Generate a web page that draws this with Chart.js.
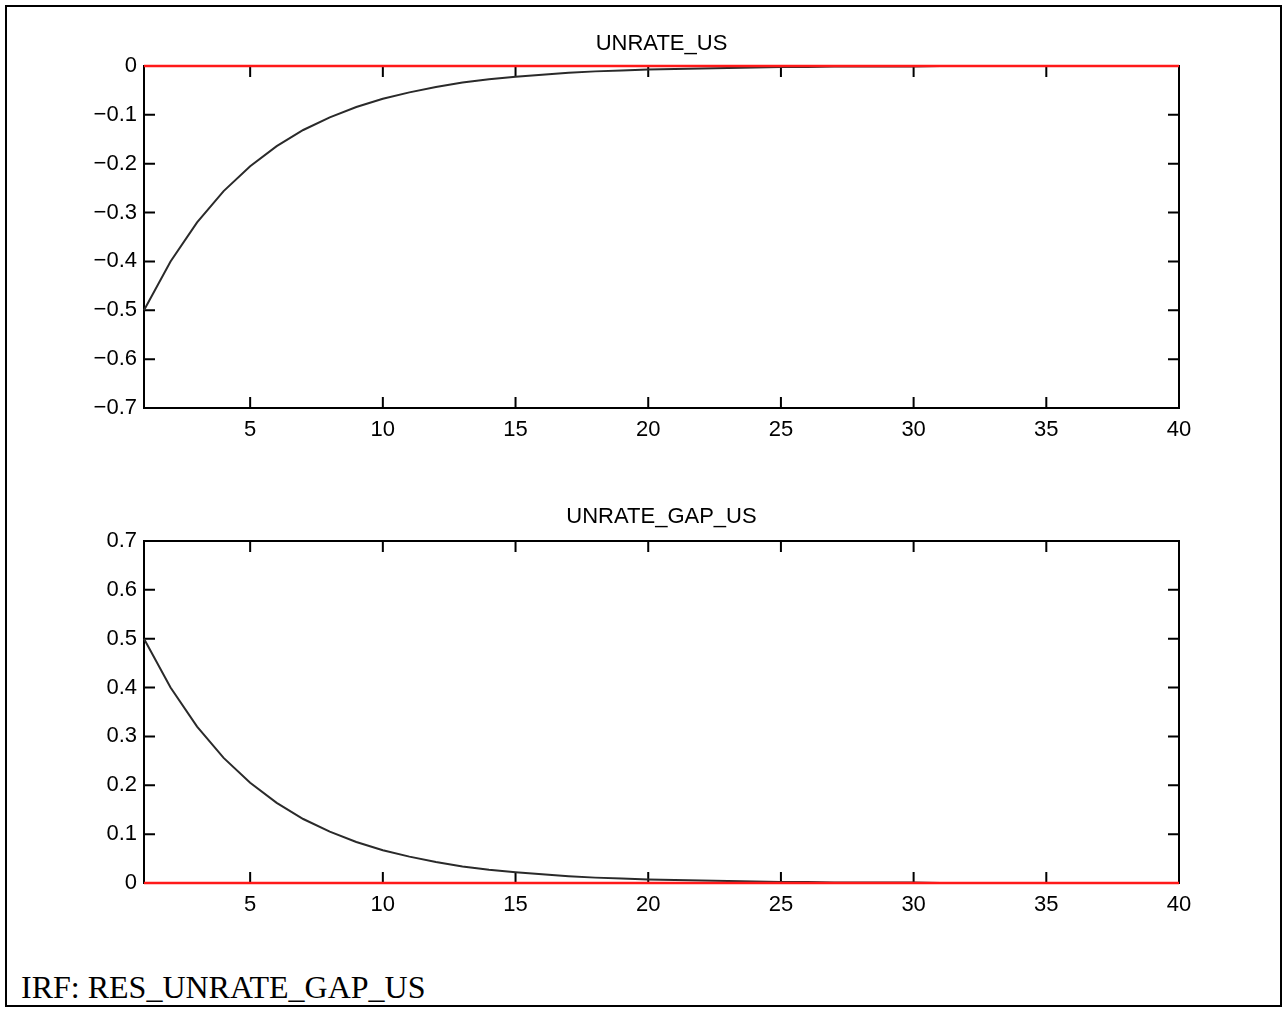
<!DOCTYPE html>
<html>
<head>
<meta charset="utf-8">
<script src="https://cdn.jsdelivr.net/npm/chart.js@4.4.1/dist/chart.umd.min.js"></script>
<style>
  body { margin: 0; background: #fff; }
  #page { position: relative; width: 1285px; height: 1010px; overflow: hidden; }
  #frame { position: absolute; left: 5px; top: 5px; width: 1273px; height: 998px; border: 2px solid #000; }
  canvas { position: absolute; left: 0; }
  #caption {
    position: absolute; left: 21px; top: 971px;
    font-family: "Liberation Serif", "Times New Roman", serif;
    font-size: 32px; line-height: 32px; color: #000; white-space: nowrap;
  }
</style>
</head>
<body>
<div id="page">
  <div id="frame"></div>
  <canvas id="chartTop" width="1285" height="470" style="top:0px"></canvas>
  <canvas id="chartBottom" width="1285" height="470" style="top:470px"></canvas>
  <div id="caption">IRF: RES_UNRATE_GAP_US</div>
</div>
<script>
// horizon (quarters)
const periods = [1, 2, 3, 4, 5, 6, 7, 8, 9, 10, 11, 12, 13, 14, 15, 16, 17, 18, 19, 20,
                 21, 22, 23, 24, 25, 26, 27, 28, 29, 30, 31, 32, 33, 34, 35, 36, 37, 38, 39, 40];

// responses to RES_UNRATE_GAP_US
const unrateUS = [-0.500, -0.400, -0.320, -0.256, -0.205, -0.164, -0.131, -0.105, -0.084, -0.067,
                  -0.054, -0.043, -0.034, -0.027, -0.022, -0.018, -0.014, -0.011, -0.009, -0.007,
                  -0.006, -0.005, -0.004, -0.003, -0.002, -0.002, -0.001, -0.001, -0.001, -0.001,
                  0, 0, 0, 0, 0, 0, 0, 0, 0, 0];
const unrateGapUS = [0.500, 0.400, 0.320, 0.256, 0.205, 0.164, 0.131, 0.105, 0.084, 0.067,
                     0.054, 0.043, 0.034, 0.027, 0.022, 0.018, 0.014, 0.011, 0.009, 0.007,
                     0.006, 0.005, 0.004, 0.003, 0.002, 0.002, 0.001, 0.001, 0.001, 0.001,
                     0, 0, 0, 0, 0, 0, 0, 0, 0, 0];
const zeroLine = [0, 0, 0, 0, 0, 0, 0, 0, 0, 0, 0, 0, 0, 0, 0, 0, 0, 0, 0, 0,
                  0, 0, 0, 0, 0, 0, 0, 0, 0, 0, 0, 0, 0, 0, 0, 0, 0, 0, 0, 0];

const xTicks = [5, 10, 15, 20, 25, 30, 35, 40];
const yTicksTop = [0, -0.1, -0.2, -0.3, -0.4, -0.5, -0.6, -0.7];
const yTicksBottom = [0, 0.1, 0.2, 0.3, 0.4, 0.5, 0.6, 0.7];

const tickFont = { family: '"Liberation Sans", Arial, sans-serif', size: 22 };
const TICK_LEN = 11;

function fmtY(v) {
    if (v === 0) return '0';
    return (v < 0 ? '\u2212' : '') + Math.abs(v).toFixed(1);
}

// box around the axes with inward ticks on all four sides
const boxPlugin = {
    id: 'box',
    beforeDatasetsDraw(chart) {
        const c = chart.ctx;
        const a = chart.chartArea;
        const xs = chart.scales.x, ys = chart.scales.y;
        c.save();
        c.strokeStyle = '#000';
        c.lineWidth = 2;
        c.strokeRect(a.left, a.top, a.right - a.left, a.bottom - a.top);
        c.beginPath();
        xs.ticks.forEach(t => {
            const px = xs.getPixelForValue(t.value);
            c.moveTo(px, a.bottom); c.lineTo(px, a.bottom - TICK_LEN);
            c.moveTo(px, a.top); c.lineTo(px, a.top + TICK_LEN);
        });
        ys.ticks.forEach(t => {
            const py = ys.getPixelForValue(t.value);
            c.moveTo(a.left, py); c.lineTo(a.left + TICK_LEN, py);
            c.moveTo(a.right, py); c.lineTo(a.right - TICK_LEN, py);
        });
        c.stroke();
        c.restore();
    }
};

function makeChart(id, title, values, yMin, yMax, yTicks, titlePad, xHeight) {
    const ctx = document.getElementById(id);
    return new Chart(ctx, {
        type: 'line',
        data: {
            labels: periods,
            datasets: [{
                // zero line sits on top of the response
                label: 'zero',
                data: zeroLine,
                borderColor: 'rgb(255,25,25)',
                borderWidth: 2.5,
                pointRadius: 0,
                clip: false,
                order: 1
            }, {
                label: title,
                data: values,
                borderColor: '#2a2a2a',
                borderWidth: 2,
                pointRadius: 0,
                tension: 0,
                clip: false,
                order: 2
            }]
        },
        options: {
            responsive: false,
            animation: false,
            events: [],
            layout: { padding: { left: 0, right: 106, top: 0, bottom: 0 } },
            plugins: {
                legend: { display: false },
                tooltip: { enabled: false },
                title: {
                    display: true,
                    text: title,
                    fullSize: false,
                    color: '#000',
                    font: { family: tickFont.family, size: 22, weight: 'normal', lineHeight: 1.2 },
                    padding: titlePad
                }
            },
            scales: {
                x: {
                    type: 'linear',
                    min: 1,
                    max: 40,
                    grid: { display: false, drawTicks: false },
                    border: { display: false },
                    afterBuildTicks: s => { s.ticks = xTicks.map(v => ({ value: v })); },
                    afterFit: s => { s.height = xHeight; },
                    ticks: { color: '#000', font: tickFont, padding: 9, maxRotation: 0, autoSkip: false }
                },
                y: {
                    min: yMin,
                    max: yMax,
                    grid: { display: false, drawTicks: false },
                    border: { display: false },
                    afterBuildTicks: s => { s.ticks = yTicks.map(v => ({ value: v })); },
                    afterFit: s => { s.width = 144; },
                    ticks: { color: '#000', font: tickFont, padding: 7, callback: v => fmtY(v) }
                }
            }
        },
        plugins: [boxPlugin]
    });
}

makeChart('chartTop', 'UNRATE_US', unrateUS, -0.7, 0, yTicksTop, { top: 30.5, bottom: 9.1 }, 62);
makeChart('chartBottom', 'UNRATE_GAP_US', unrateGapUS, 0, 0.7, yTicksBottom, { top: 33.3, bottom: 11.3 }, 57);
</script>
</body>
</html>
